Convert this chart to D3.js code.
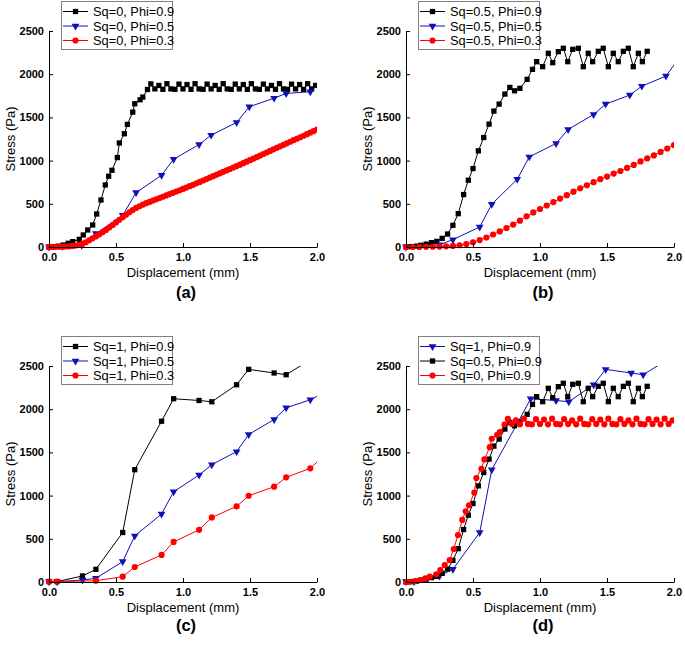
<!DOCTYPE html>
<html>
<head>
<meta charset="utf-8">
<script src="https://cdn.jsdelivr.net/npm/d3@7"></script>
<style>
  body { margin: 0; background: #fff; }
  svg { font-family: Arial, "Liberation Sans", sans-serif; }
</style>
</head>
<body>
<svg id="chart" width="685" height="646"></svg>
<script>
// ---- data (displacement in mm, stress in Pa) ----
const xTicks = [0, 0.5, 1.0, 1.5, 2.0]
const yTicks = [0, 500, 1000, 1500, 2000, 2500]

// Sq=0, Phi=0.9
const sq0Phi09X = [0, 0.03, 0.07, 0.107, 0.144, 0.177, 0.226, 0.256, 0.289, 0.326, 0.356, 0.388, 0.42, 0.445, 0.47, 0.51, 0.525, 0.5625, 0.585, 0.625, 0.64, 0.68, 0.70, 0.735, 0.76,
  0.79, 0.82, 0.85, 0.88, 0.91, 0.94, 0.97, 1.00, 1.03, 1.06, 1.09, 1.12, 1.15, 1.18, 1.21, 1.24, 1.27, 1.30, 1.33, 1.36, 1.39, 1.42, 1.45, 1.48, 1.51, 1.54, 1.57, 1.60, 1.63, 1.66, 1.69, 1.72, 1.75, 1.78, 1.81, 1.84, 1.87, 1.90, 1.93, 1.96, 1.99]
const sq0Phi09Y = [0, 3, 10, 23, 43, 62, 89, 139, 197, 255, 382, 544, 718, 819, 888, 1035, 1204, 1311, 1419, 1561, 1658, 1704, 1735, 1823, 1888,
  1830, 1870, 1825, 1890, 1830, 1825, 1885, 1830, 1880, 1825, 1890, 1830, 1825, 1885, 1830, 1870, 1825, 1890, 1830, 1825, 1885, 1830, 1880, 1825, 1890, 1830, 1825, 1885, 1830, 1870, 1825, 1890, 1830, 1825, 1885, 1830, 1880, 1825, 1890, 1830, 1870]

// Sq=0, Phi=0.5
const sq0Phi05X = [0, 0.1, 0.244, 0.35, 0.55, 0.65, 0.84, 0.93, 1.12, 1.21, 1.40, 1.495, 1.68, 1.77, 1.95, 2.05]
const sq0Phi05Y = [0, 8, 19, 155, 367, 630, 830, 1016, 1186, 1295, 1441, 1623, 1723, 1777, 1797, 1943]

// Sq=0, Phi=0.3
const sq0Phi03X = [0, 0.025, 0.05, 0.075, 0.1, 0.125, 0.15, 0.175, 0.2, 0.225, 0.25, 0.275, 0.3, 0.325, 0.35, 0.375, 0.4, 0.425, 0.45, 0.475,
  0.5, 0.525, 0.55, 0.575, 0.6, 0.625, 0.65, 0.675, 0.7, 0.725, 0.75, 0.775, 0.8, 0.825, 0.85, 0.875, 0.9, 0.925, 0.95, 0.975,
  1.0, 1.025, 1.05, 1.075, 1.1, 1.125, 1.15, 1.175, 1.2, 1.225, 1.25, 1.275, 1.3, 1.325, 1.35, 1.375, 1.4, 1.425, 1.45, 1.475,
  1.5, 1.525, 1.55, 1.575, 1.6, 1.625, 1.65, 1.675, 1.7, 1.725, 1.75, 1.775, 1.8, 1.825, 1.85, 1.875, 1.9, 1.925, 1.95, 1.975, 2.0]
const sq0Phi03Y = [0, 1, 2, 3, 4, 6, 8, 12, 17, 25, 36, 55, 78, 100, 122, 147, 172, 198, 226, 255,
  285, 315, 345, 373, 402, 428, 452, 472, 490, 507, 522, 537, 552, 567, 582, 597, 612, 627, 642, 657,
  672, 688, 704, 720, 737, 753, 770, 786, 803, 820, 836, 853, 870, 886, 903, 920, 937, 953, 970, 988,
  1005, 1022, 1040, 1058, 1076, 1094, 1112, 1130, 1148, 1165, 1183, 1200, 1218, 1236, 1253, 1270, 1288, 1306, 1324, 1342, 1360]

// Sq=0.5, Phi=0.9
const sq05Phi09X = [0, 0.04, 0.08, 0.11, 0.15, 0.19, 0.23, 0.27, 0.31, 0.35, 0.39, 0.43, 0.465, 0.50, 0.54, 0.58, 0.62, 0.656, 0.695, 0.738, 0.775, 0.81, 0.85, 0.904, 0.944,
  0.975, 1.02, 1.062, 1.095, 1.137, 1.174, 1.207, 1.244, 1.286, 1.323, 1.36, 1.393, 1.435, 1.472, 1.51, 1.547, 1.584, 1.622, 1.659, 1.696, 1.734, 1.764, 1.80]
const sq05Phi09Y = [2, 5, 10, 20, 33, 50, 65, 100, 150, 251, 386, 607, 773, 908, 1113, 1267, 1422, 1573, 1654, 1770, 1847, 1808, 1836, 1940, 2056,
  2145, 2087, 2242, 2133, 2261, 2300, 2145, 2288, 2300, 2087, 2242, 2145, 2265, 2300, 2087, 2242, 2145, 2265, 2300, 2087, 2242, 2145, 2265]

// Sq=0.5, Phi=0.5
const sq05Phi05X = [0, 0.25, 0.35, 0.55, 0.64, 0.83, 0.92, 1.12, 1.21, 1.40, 1.49, 1.67, 1.76, 1.94, 2.05]
const sq05Phi05Y = [0, 27, 85, 232, 495, 784, 1043, 1198, 1360, 1534, 1654, 1758, 1862, 1978, 2213]

// Sq=0.5, Phi=0.3
const sq05Phi03X = [0, 0.05, 0.1, 0.15, 0.2, 0.25, 0.3, 0.35, 0.4, 0.45, 0.5, 0.55, 0.6, 0.65, 0.7, 0.75, 0.8, 0.85, 0.9, 0.95,
  1.0, 1.05, 1.1, 1.15, 1.2, 1.25, 1.3, 1.35, 1.4, 1.45, 1.5, 1.55, 1.6, 1.65, 1.7, 1.75, 1.8, 1.85, 1.9, 1.95, 2.0]
const sq05Phi03Y = [0, 0, 1, 2, 3, 5, 8, 12, 20, 35, 55, 80, 110, 145, 180, 220, 260, 305, 355, 400,
  440, 480, 520, 560, 600, 640, 680, 715, 750, 785, 815, 850, 880, 915, 950, 990, 1025, 1060, 1100, 1140, 1180]

// Sq=1, Phi=0.9
const sq1Phi09X = [0, 0.06, 0.25, 0.35, 0.55, 0.64, 0.84, 0.93, 1.12, 1.215, 1.40, 1.49, 1.68, 1.77, 1.95]
const sq1Phi09Y = [5, 5, 70, 147, 573, 1300, 1861, 2121, 2101, 2086, 2283, 2461, 2419, 2399, 2572]

// Sq=1, Phi=0.5
const sq1Phi05X = [0, 0.06, 0.25, 0.35, 0.55, 0.64, 0.84, 0.93, 1.12, 1.215, 1.40, 1.49, 1.68, 1.77, 1.95, 2.05]
const sq1Phi05Y = [3, 3, 23, 43, 236, 534, 786, 1045, 1238, 1358, 1509, 1707, 1881, 2016, 2109, 2187]

// Sq=1, Phi=0.3
const sq1Phi03X = [0, 0.06, 0.35, 0.55, 0.64, 0.84, 0.93, 1.12, 1.215, 1.40, 1.49, 1.68, 1.77, 1.95, 2.05]
const sq1Phi03Y = [5, 5, 15, 62, 174, 313, 464, 604, 747, 875, 998, 1103, 1211, 1316, 1462]

const legendA = ['Sq=0, Phi=0.9', 'Sq=0, Phi=0.5', 'Sq=0, Phi=0.3']
const legendB = ['Sq=0.5, Phi=0.9', 'Sq=0.5, Phi=0.5', 'Sq=0.5, Phi=0.3']
const legendC = ['Sq=1, Phi=0.9', 'Sq=1, Phi=0.5', 'Sq=1, Phi=0.3']
const legendD = ['Sq=1, Phi=0.9', 'Sq=0.5, Phi=0.9', 'Sq=0, Phi=0.9']
const panelLetters = ['(a)', '(b)', '(c)', '(d)']

// ---- styles ----
const BLACK = '#000000'
const BLUE = '#1010b8'
const RED = '#ff0000'

const zip = (xs, ys) => xs.map((v, i) => ({ x: v, y: ys[i] }))

const black = (xs, ys) => ({ data: zip(xs, ys), color: BLACK, symbol: 'square' })
const blue = (xs, ys) => ({ data: zip(xs, ys), color: BLUE, symbol: 'triangle' })
const red = (xs, ys) => ({ data: zip(xs, ys), color: RED, symbol: 'circle' })

const W = 268, H = 216

const panels = [
  { left: 49, top: 31, legendW: 111, letterY: 298, labels: legendA,
    series: [black(sq0Phi09X, sq0Phi09Y), blue(sq0Phi05X, sq0Phi05Y), red(sq0Phi03X, sq0Phi03Y)] },
  { left: 406, top: 31, legendW: 121, letterY: 298, labels: legendB,
    series: [black(sq05Phi09X, sq05Phi09Y), blue(sq05Phi05X, sq05Phi05Y), red(sq05Phi03X, sq05Phi03Y)] },
  { left: 49, top: 366, legendW: 111, letterY: 631, labels: legendC,
    series: [black(sq1Phi09X, sq1Phi09Y), blue(sq1Phi05X, sq1Phi05Y), red(sq1Phi03X, sq1Phi03Y)] },
  { left: 406, top: 366, legendW: 121, letterY: 631, labels: legendD,
    series: [blue(sq1Phi09X, sq1Phi09Y), black(sq05Phi09X, sq05Phi09Y), red(sq0Phi09X, sq0Phi09Y)] }
]

const svg = d3.select('#chart')

function symbolPath(type) {
  if (type === 'square') return d3.symbol().type(d3.symbolSquare).size(28)()
  if (type === 'triangle') return d3.symbol().type(d3.symbolTriangle).size(26)()
  return d3.symbol().type(d3.symbolCircle).size(30)()
}

function addMarker(sel, type, color, cx, cy) {
  sel.append('path')
    .attr('d', symbolPath(type))
    .attr('fill', color)
    .attr('transform', `translate(${cx},${cy})` + (type === 'triangle' ? ' rotate(180)' : ''))
}

panels.forEach((p, idx) => {
  const x = d3.scaleLinear().domain([0, 2]).range([p.left, p.left + W])
  const y = d3.scaleLinear().domain([0, 2500]).range([p.top + H, p.top])

  const clipId = 'clip' + idx
  svg.append('clipPath').attr('id', clipId)
    .append('rect')
      .attr('x', p.left - 5).attr('y', p.top)
      .attr('width', W + 5).attr('height', H + 5)

  const plot = svg.append('g').attr('clip-path', `url(#${clipId})`)

  const line = d3.line().x(d => x(d.x)).y(d => y(d.y))

  p.series.forEach(s => {
    plot.append('path')
      .datum(s.data)
      .attr('fill', 'none')
      .attr('stroke', s.color)
      .attr('stroke-width', 1)
      .attr('d', line)
    s.data.filter(d => d.x <= 2.0 && d.y <= 2500).forEach(d => {
      addMarker(plot, s.symbol, s.color, x(d.x), y(d.y))
    })
  })

  // axes, ticks point inward
  svg.append('g')
    .attr('transform', `translate(0,${p.top + H})`)
    .call(d3.axisBottom(x).tickValues(xTicks).tickSizeInner(-4).tickSizeOuter(0).tickPadding(6).tickFormat(d3.format('.1f')))
    .call(g => g.selectAll('text').attr('font-size', 11).attr('font-weight', 'bold').attr('fill', '#000').attr('font-family', null))
    .call(g => g.selectAll('line, path').attr('stroke', '#000'))

  svg.append('g')
    .attr('transform', `translate(${p.left},0)`)
    .call(d3.axisLeft(y).tickValues(yTicks).tickSizeInner(-4).tickSizeOuter(0).tickPadding(5).tickFormat(d3.format('d')))
    .call(g => g.selectAll('text').attr('font-size', 11).attr('font-weight', 'bold').attr('fill', '#000').attr('font-family', null))
    .call(g => g.selectAll('line, path').attr('stroke', '#000'))

  svg.append('text')
    .attr('x', p.left + W / 2)
    .attr('y', p.top + H + 30)
    .attr('text-anchor', 'middle')
    .attr('font-size', 13)
    .text('Displacement (mm)')

  svg.append('text')
    .attr('transform', `translate(${p.left - 34},${p.top + H / 2}) rotate(-90)`)
    .attr('text-anchor', 'middle')
    .attr('font-size', 13)
    .text('Stress (Pa)')

  svg.append('text')
    .attr('x', p.left + 137)
    .attr('y', p.letterY)
    .attr('text-anchor', 'middle')
    .attr('font-size', 16.5)
    .attr('font-weight', 'bold')
    .text(panelLetters[idx])

  // legend
  const lg = svg.append('g').attr('transform', `translate(${p.left + 12},${p.top - 30})`)
  lg.append('rect')
    .attr('x', 0.5).attr('y', 0.5)
    .attr('width', p.legendW).attr('height', 48)
    .attr('fill', '#fff').attr('stroke', '#808080')
  p.series.forEach((s, i) => {
    const cy = 10.5 + i * 14.5
    lg.append('line')
      .attr('x1', 2).attr('x2', 27).attr('y1', cy).attr('y2', cy)
      .attr('stroke', s.color)
    addMarker(lg, s.symbol, s.color, 14.5, cy)
    lg.append('text')
      .attr('x', 32).attr('y', cy + 4.5)
      .attr('font-size', 12.8)
      .text(p.labels[i])
  })
})
</script>
</body>
</html>
